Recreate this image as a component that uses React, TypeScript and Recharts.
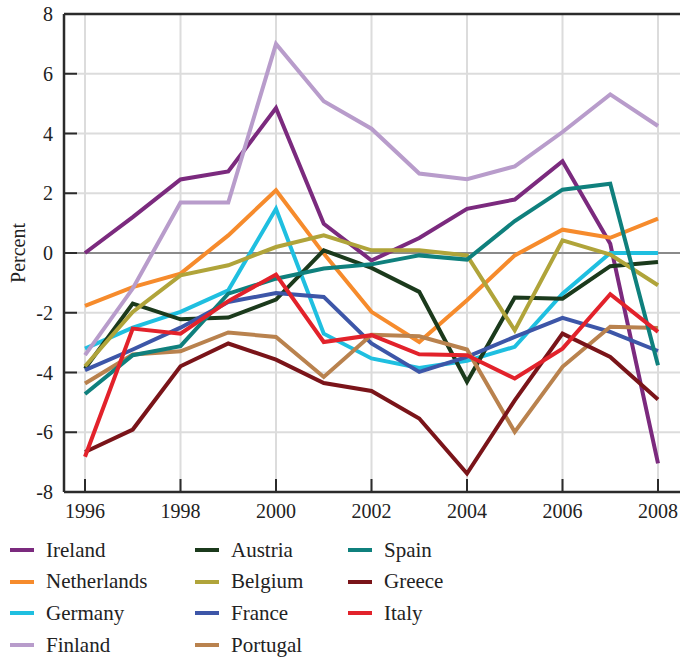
import React from 'react';
import { LineChart, Line, XAxis, YAxis, CartesianGrid, ReferenceLine } from 'recharts';

const years = [1996, 1997, 1998, 1999, 2000, 2001, 2002, 2003, 2004, 2005, 2006, 2007, 2008];
const xTicks = [1996, 1998, 2000, 2002, 2004, 2006, 2008];
const yTicks = [-8, -6, -4, -2, 0, 2, 4, 6, 8];

const ireland = [0, 1.2, 2.46, 2.73, 4.85, 0.98, -0.25, 0.5, 1.48, 1.79, 3.07, 0.31, -7.04];
const netherlands = [-1.77, -1.14, -0.69, 0.59, 2.1, -0.02, -1.97, -2.98, -1.58, -0.08, 0.78, 0.51, 1.15];
const germany = [-3.2, -2.5, -1.97, -1.25, 1.48, -2.7, -3.53, -3.85, -3.61, -3.14, -1.36, 0, 0];
const finland = [-3.42, -1.19, 1.69, 1.69, 7.0, 5.08, 4.16, 2.66, 2.47, 2.9, 4.05, 5.31, 4.25];
const austria = [-3.87, -1.69, -2.22, -2.16, -1.56, 0.09, -0.5, -1.3, -4.31, -1.49, -1.53, -0.44, -0.3];
const belgium = [-3.79, -1.97, -0.75, -0.41, 0.2, 0.59, 0.09, 0.09, -0.08, -2.59, 0.42, -0.05, -1.08];
const france = [-3.92, -3.23, -2.5, -1.64, -1.34, -1.47, -3.03, -3.98, -3.48, -2.81, -2.17, -2.64, -3.28];
const portugal = [-4.37, -3.4, -3.29, -2.66, -2.81, -4.15, -2.74, -2.79, -3.23, -5.99, -3.81, -2.47, -2.51];
const spain = [-4.72, -3.42, -3.12, -1.36, -0.86, -0.52, -0.38, -0.08, -0.22, 1.07, 2.12, 2.32, -3.76];
const greece = [-6.66, -5.91, -3.79, -3.03, -3.57, -4.35, -4.62, -5.54, -7.38, -4.93, -2.7, -3.48, -4.9];
const italy = [-6.82, -2.53, -2.7, -1.61, -0.72, -2.98, -2.75, -3.39, -3.42, -4.2, -3.2, -1.38, -2.64];

const countries = ['Ireland', 'Netherlands', 'Germany', 'Finland', 'Austria', 'Belgium', 'France', 'Portugal', 'Spain', 'Greece', 'Italy'];
const values = [ireland, netherlands, germany, finland, austria, belgium, france, portugal, spain, greece, italy];
const colors = ['#7b2a7e', '#f68b2c', '#1fbfe0', '#b89ccb', '#1b3a1c', '#b0a43a', '#3d56a8', '#b9824e', '#0f807d', '#7a1419', '#e2222b'];

const data = years.map((year, i) => {
  const row: Record<string, number> = { year };
  countries.forEach((c, j) => {
    row[c] = values[j][i];
  });
  return row;
});

const FONT = '"Liberation Serif", "DejaVu Serif", serif';
const AXIS = '#2b2b2b';

const YTick = (props: any) => {
  const { x, y, payload } = props;
  return (
    <g>
      <line x1={x} x2={x + 13} y1={y} y2={y} stroke={AXIS} strokeWidth={2} />
      <text x={x - 11} y={y} dy={7} textAnchor="end" fontFamily={FONT} fontSize={20} fill="#222">
        {payload.value}
      </text>
    </g>
  );
};

const XTick = (props: any) => {
  const { x, y, payload } = props;
  return (
    <g>
      <line x1={x} x2={x} y1={y} y2={y - 13} stroke={AXIS} strokeWidth={2} />
      <text x={x} y={y + 26} textAnchor="middle" fontFamily={FONT} fontSize={20} fill="#222">
        {payload.value}
      </text>
    </g>
  );
};

const PercentLabel = (props: any) => {
  const vb = props.viewBox || { x: 0, y: 14, width: 64, height: 478 };
  const cx = vb.x + 25;
  const cy = vb.y + vb.height / 2;
  return (
    <text x={cx} y={cy} transform={`rotate(-90 ${cx} ${cy})`} textAnchor="middle" fontFamily={FONT} fontSize={20} fill="#222">
      Percent
    </text>
  );
};

const legendCols = [10, 195, 348];
const legendTop = 550;
const legendRowGap = 31.7;
const legendPerCol = 4;

const App: React.FC = () => {
  return (
    <div style={{ position: 'absolute', left: 0, top: 0, width: 680, height: 658, background: '#fff' }}>
      <LineChart width={680} height={540} data={data} margin={{ top: 14, right: 0, bottom: 0, left: 0 }}>
        <CartesianGrid stroke="#dcdcdc" strokeWidth={2} verticalValues={xTicks} horizontalValues={yTicks} />
        <XAxis
          dataKey="year"
          type="number"
          domain={[1996, 2008]}
          ticks={xTicks}
          padding={{ left: 21, right: 22 }}
          height={48}
          tickSize={0}
          tickMargin={0}
          tickLine={false}
          axisLine={{ stroke: AXIS, strokeWidth: 2.5 }}
          tick={<XTick />}
          interval={0}
        />
        <YAxis
          type="number"
          domain={[-8, 8]}
          ticks={yTicks}
          width={64}
          tickSize={0}
          tickMargin={0}
          tickLine={false}
          axisLine={{ stroke: AXIS, strokeWidth: 2.5 }}
          tick={<YTick />}
          interval={0}
          label={{ content: <PercentLabel /> }}
        />
        <ReferenceLine y={0} stroke="#8a8a8a" strokeWidth={2} />
        <ReferenceLine y={8} stroke={AXIS} strokeWidth={2.5} />
        {countries.map((c, i) => (
          <Line
            key={c}
            type="linear"
            dataKey={c}
            stroke={colors[i]}
            strokeWidth={4}
            dot={false}
            activeDot={false}
            isAnimationActive={false}
          />
        ))}
      </LineChart>
      {countries.map((c, i) => {
        const col = Math.floor(i / legendPerCol);
        const row = i % legendPerCol;
        return (
          <div
            key={c}
            style={{
              position: 'absolute',
              left: legendCols[col],
              top: legendTop + row * legendRowGap - 16,
              height: 32,
              display: 'flex',
              alignItems: 'center',
              fontFamily: FONT,
              fontSize: 21,
              color: '#222',
              whiteSpace: 'nowrap',
            }}
          >
            <span style={{ display: 'inline-block', width: 24, height: 4, background: colors[i], marginRight: 12 }} />
            <span>{c}</span>
          </div>
        );
      })}
    </div>
  );
};

export default App;
